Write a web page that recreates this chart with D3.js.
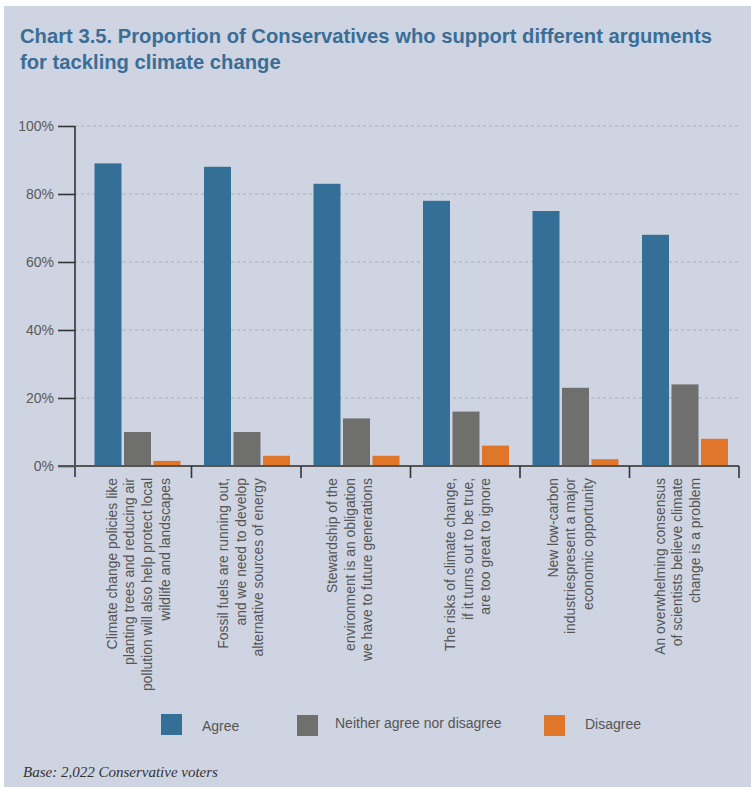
<!DOCTYPE html>
<html>
<head>
<meta charset="utf-8">
<script src="https://cdn.jsdelivr.net/npm/d3@7"></script>
<style>
  html, body { margin: 0; padding: 0; background: #ffffff; }
  svg { display: block; }
</style>
</head>
<body>
<svg id="chart" width="751" height="787"></svg>
<script>
const categories = [
  ["Climate change policies like", "planting trees and reducing air", "pollution will also help protect local", "wildlife and landscapes"],
  ["Fossil fuels are running out,", "and we need to develop", "alternative sources of energy"],
  ["Stewardship of the", "environment is an obligation", "we have to future generations"],
  ["The risks of climate change,", "if it turns out to be true,", "are too great to ignore"],
  ["New low-carbon", "industriespresent a major", "economic opportunity"],
  ["An overwhelming consensus", "of scientists believe climate", "change is a problem"]
];
const seriesNames = ["Agree", "Neither agree nor disagree", "Disagree"];
const agree    = [89, 88, 83, 78, 75, 68];
const neither  = [10, 10, 14, 16, 23, 24];
const disagree = [1.5, 3, 3, 6, 2, 8];
const yTicks = [0, 20, 40, 60, 80, 100];
const colors = ["#346f97", "#6f6f6d", "#e07629"];

// layout nudges for the rotated label blocks (style, not data)
const labelNudge = [1.5, -5.5, -6, 2.5, -4.5, -7];

const seriesValues = [agree, neither, disagree];
const svg = d3.select("#chart");

// background panel
svg.append("rect").attr("x", 4).attr("y", 6).attr("width", 747).attr("height", 781).attr("fill", "#ced4e2");

// title
const titleG = svg.append("g").attr("transform", "translate(20,0)");
const t1 = titleG.append("text").attr("x", 0).attr("y", 43)
  .text("Chart 3.5. Proportion of Conservatives who support different arguments");
const t2 = titleG.append("text").attr("x", 0).attr("y", 69)
  .text("for tackling climate change");
titleG.selectAll("text")
  .attr("font-family", "Liberation Sans, Arial, sans-serif")
  .attr("font-weight", "bold")
  .attr("font-size", 21)
  .attr("fill", "#3a6e96");
const natural = t1.node().getComputedTextLength();
const sx = 692 / natural;
titleG.attr("transform", `translate(20,0) scale(${sx},1)`);

// scales
const idx = categories.map((d, i) => i);
const x0 = d3.scaleBand().domain(idx).range([82, 739]).paddingInner(0).paddingOuter(0);
const x1 = d3.scaleBand().domain([0, 1, 2]).range([12.5, x0.bandwidth() - 11]).paddingInner(0.085);
const y = d3.scaleLinear().domain([0, 100]).range([466, 126]);

// gridlines
svg.append("g").selectAll("line").data(yTicks.filter(d => d > 0)).join("line")
  .attr("x1", 75).attr("x2", 739)
  .attr("y1", d => y(d)).attr("y2", d => y(d))
  .attr("stroke", "#a9adb6").attr("stroke-width", 1.2)
  .attr("stroke-dasharray", "3,3");

// bars
const groups = svg.append("g").selectAll("g").data(idx).join("g")
  .attr("transform", i => `translate(${x0(i)},0)`);
groups.selectAll("rect").data(i => seriesValues.map((s, k) => ({k, v: s[i]}))).join("rect")
  .attr("x", d => x1(d.k))
  .attr("width", x1.bandwidth())
  .attr("y", d => y(d.v))
  .attr("height", d => y(0) - y(d.v))
  .attr("fill", d => colors[d.k]);

// y axis
const yAxis = d3.axisLeft(y).tickValues(yTicks).tickFormat(d => d + "%").tickSize(17).tickPadding(4);
const yg = svg.append("g").attr("transform", "translate(75,0)").call(yAxis);
yg.select(".domain").remove();
yg.selectAll(".tick line").attr("stroke", "#333").attr("stroke-width", 1.6);
yg.selectAll(".tick text")
  .attr("font-family", "Liberation Sans, Arial, sans-serif")
  .attr("font-size", 14).attr("fill", "#5a5a5a");
svg.append("line").attr("x1", 75).attr("x2", 75).attr("y1", 126).attr("y2", 477)
  .attr("stroke", "#333").attr("stroke-width", 1.6);

// baseline
svg.append("line").attr("x1", 58).attr("x2", 739).attr("y1", y(0)).attr("y2", y(0))
  .attr("stroke", "#555").attr("stroke-width", 2);

// category separator ticks
const bounds = idx.map(i => x0(i) + x0.bandwidth());
svg.append("g").selectAll("line").data(bounds).join("line")
  .attr("x1", d => d).attr("x2", d => d).attr("y1", y(0)).attr("y2", 478)
  .attr("stroke", "#333").attr("stroke-width", 1.6);

// category labels
const lblG = svg.append("g");
idx.forEach(i => {
  const lines = categories[i];
  const cx = x0(i) + x0.bandwidth() / 2 + labelNudge[i];
  const spacing = 17.6;
  lines.forEach((ln, j) => {
    const lx = cx + (j - (lines.length - 1) / 2) * spacing;
    lblG.append("text")
      .attr("transform", `translate(${lx},478) rotate(-90)`)
      .attr("text-anchor", "end")
      .attr("dominant-baseline", "central")
      .attr("font-family", "Liberation Sans, Arial, sans-serif")
      .attr("font-size", 13.9)
      .attr("fill", "#555")
      .text(ln);
  });
});

// legend
const legendItems = [
  {rx: 161, ry: 714, tx: 202, ty: 731},
  {rx: 297, ry: 715, tx: 335, ty: 727.5},
  {rx: 544, ry: 715, tx: 585, ty: 729}
];
const lg = svg.append("g");
legendItems.forEach((p, k) => {
  lg.append("rect").attr("x", p.rx).attr("y", p.ry).attr("width", 21).attr("height", 21).attr("fill", colors[k]);
  lg.append("text").attr("x", p.tx).attr("y", p.ty)
    .attr("font-family", "Liberation Sans, Arial, sans-serif")
    .attr("font-size", 14).attr("fill", "#555")
    .text(seriesNames[k]);
});

// footnote
svg.append("text").attr("x", 23).attr("y", 777)
  .attr("font-family", "Liberation Serif, Times New Roman, serif")
  .attr("font-style", "italic").attr("font-size", 15).attr("fill", "#333")
  .text("Base: 2,022 Conservative voters");
</script>
</body>
</html>
